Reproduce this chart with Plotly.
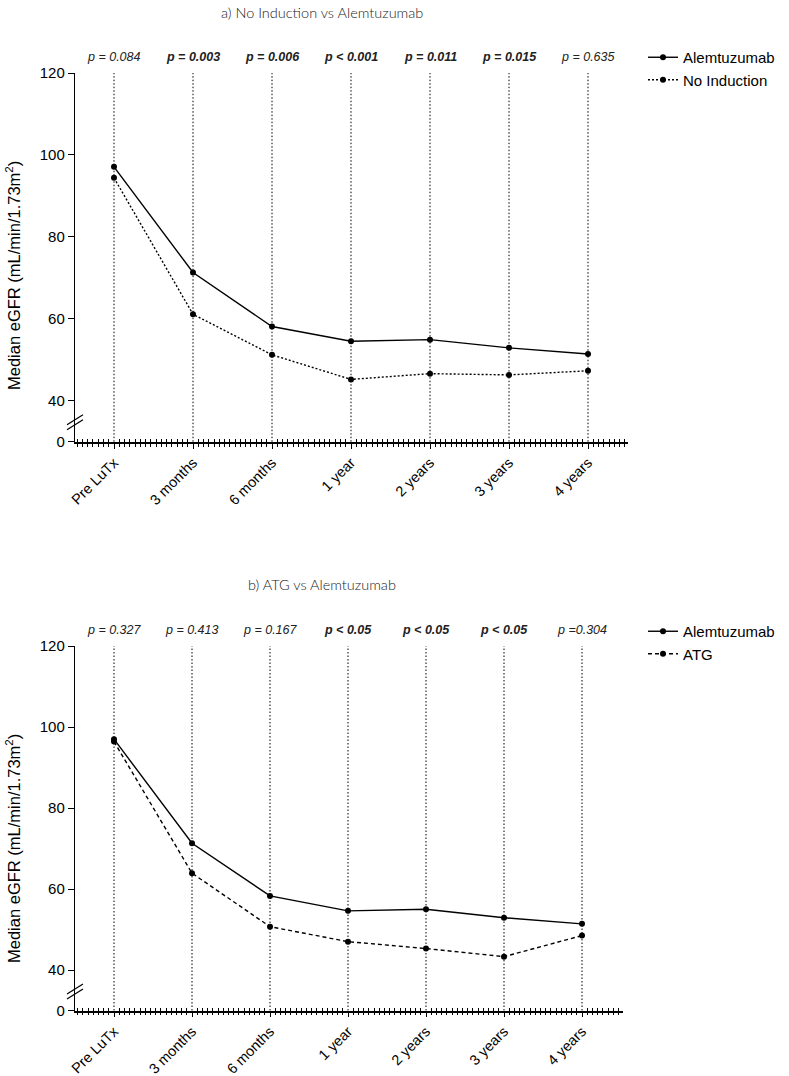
import plotly.graph_objects as go

W, H = 789, 1076

categories = ["Pre LuTx", "3 months", "6 months", "1 year", "2 years", "3 years", "4 years"]

alem_a = [97.1, 71.3, 58.1, 54.5, 54.9, 52.9, 51.4]
noind_a = [94.4, 61.1, 51.2, 45.2, 46.6, 46.3, 47.3]
pvals_a = ["p = 0.084", "p = 0.003", "p = 0.006", "p < 0.001", "p = 0.011", "p = 0.015", "p = 0.635"]
sig_a = [False, True, True, True, True, True, False]

alem_b = [97.0, 71.3, 58.3, 54.6, 55.0, 52.9, 51.4]
atg_b = [96.4, 63.9, 50.7, 47.0, 45.3, 43.3, 48.5]
pvals_b = ["p = 0.327", "p = 0.413", "p = 0.167", "p < 0.05", "p < 0.05", "p < 0.05", "p =0.304"]
sig_b = [False, False, False, True, True, True, False]

yticks_upper = [40, 60, 80, 100, 120]

FONT = "Arial, Liberation Sans, sans-serif"
TFONT = "Lato, Open Sans, sans-serif"


def py(p):
    return 1 - p / H


def pxx(p):
    return p / W


x_idx = list(range(len(categories)))

fig = go.Figure()

panels = [
    dict(xl=75, xr=628, c0=114, step=79, top=73, forty=400.7, zero=441.7, brk=422,
         xa="x", xo="x3", yu="y", yl="y2", legend="legend", title="a) No Induction vs Alemtuzumab",
         title_y=12, p_y=57, leg_y=41,
         series=[("Alemtuzumab", alem_a, "solid"), ("No Induction", noind_a, "2px,2px")],
         pv=pvals_a, sig=sig_a),
    dict(xl=75, xr=623, c0=114, step=78, top=646, forty=970, zero=1010.5, brk=991,
         xa="x2", xo="x4", yu="y3", yl="y4", legend="legend2", title="b) ATG vs Alemtuzumab",
         title_y=584, p_y=630, leg_y=615,
         series=[("Alemtuzumab", alem_b, "solid"), ("ATG", atg_b, "4px,3px")],
         pv=pvals_b, sig=sig_b),
]

shapes = []
annotations = []
layout_axes = {}

for P in panels:
    scale = (P["forty"] - P["top"]) / 80.0
    up_bottom_val = 120 - (P["brk"] - P["top"]) / scale
    low_top_val = (P["zero"] - P["brk"]) / scale
    xr_lo = -(P["c0"] - P["xl"]) / P["step"]
    xr_hi = (P["xr"] - P["c0"]) / P["step"]

    for name, vals, dash in P["series"]:
        fig.add_trace(go.Scatter(
            x=x_idx, y=vals, name=name, mode="lines+markers",
            line=dict(color="black", width=1.4, dash=dash),
            marker=dict(color="black", size=6),
            xaxis=P["xa"], yaxis=P["yu"], legend=P["legend"],
        ))
    fig.add_trace(go.Scatter(x=[0], y=[0], mode="markers", marker=dict(opacity=0), hoverinfo="skip",
                             xaxis=P["xa"], yaxis=P["yl"], showlegend=False))
    fig.add_trace(go.Scatter(x=[0], y=[0], mode="markers", marker=dict(opacity=0), hoverinfo="skip",
                             xaxis=P["xo"], yaxis=P["yl"], showlegend=False))

    xk = "xaxis" + P["xa"][1:]
    xok = "xaxis" + P["xo"][1:]
    yuk = "yaxis" + P["yu"][1:]
    ylk = "yaxis" + P["yl"][1:]

    layout_axes[xk] = dict(
        domain=[pxx(P["xl"]), pxx(P["xr"])], range=[xr_lo, xr_hi], anchor=P["yl"],
        tickvals=x_idx, ticktext=categories, tickangle=-45,
        ticks="outside", ticklen=5, tickwidth=1.2, tickcolor="black",
        showline=True, linecolor="black", linewidth=1.6, showgrid=False, zeroline=False,
        tickfont=dict(family=FONT, size=14.5, color="black"),
        minor=dict(dtick=1 / 15, tick0=0, ticks="outside", ticklen=3, tickwidth=1, tickcolor="black", showgrid=False),
    )
    layout_axes[xok] = dict(
        domain=[pxx(P["xl"]), pxx(P["xr"])], range=[xr_lo, xr_hi], anchor=P["yl"], overlaying=P["xa"],
        showticklabels=False, ticks="", showline=False, showgrid=False, zeroline=False,
        minor=dict(dtick=1 / 15, tick0=0, ticks="inside", ticklen=3, tickwidth=1, tickcolor="black", showgrid=False),
    )
    layout_axes[yuk] = dict(
        domain=[py(P["brk"]), py(P["top"])], range=[up_bottom_val, 120], anchor=P["xa"],
        tickvals=yticks_upper, ticks="outside", ticklen=6, tickwidth=1.2, tickcolor="black",
        showline=True, linecolor="black", linewidth=1.4, showgrid=False, zeroline=False,
        tickfont=dict(family=FONT, size=15, color="black"),
    )
    layout_axes[ylk] = dict(
        domain=[py(P["zero"]), py(P["brk"])], range=[0, low_top_val], anchor=P["xa"],
        tickvals=[0], ticks="outside", ticklen=6, tickwidth=1.2, tickcolor="black",
        showline=True, linecolor="black", linewidth=1.4, showgrid=False, zeroline=False,
        tickfont=dict(family=FONT, size=15, color="black"),
    )

    for i in x_idx:
        shapes.append(dict(type="line", xref=P["xa"], yref="paper", x0=i, x1=i,
                           y0=py(P["zero"]), y1=py(P["top"]),
                           line=dict(color="black", width=1, dash="1.5px,2px"), layer="below"))
    b0 = P["forty"] + 14
    for off in (0, 5):
        shapes.append(dict(type="line", xref="paper", yref="paper",
                           x0=pxx(67), y0=py(b0 + 10 + off), x1=pxx(83), y1=py(b0 + off),
                           line=dict(color="black", width=1.2)))

    for i, (t, s) in enumerate(zip(P["pv"], P["sig"])):
        txt = f"<i>{t}</i>" if not s else f"<b><i>{t}</i></b>"
        annotations.append(dict(x=i, xref=P["xa"], y=py(P["p_y"]), yref="paper", text=txt,
                                showarrow=False, xanchor="center", yanchor="middle",
                                font=dict(family=FONT, size=12.5, color="#222")))
    annotations.append(dict(x=pxx(322), xref="paper", y=py(P["title_y"]), yref="paper", text=P["title"],
                            showarrow=False, xanchor="center", yanchor="middle",
                            font=dict(family=TFONT, size=14.5, color="#222", weight=300)))
    annotations.append(dict(x=pxx(13), xref="paper", y=py(P["top"] + 203), yref="paper",
                            text="Median eGFR (mL/min/1.73m<sup>2</sup>)", textangle=-90,
                            showarrow=False, xanchor="center", yanchor="middle",
                            font=dict(family=FONT, size=16.5, color="black")))

    layout_axes[P["legend"]] = dict(
        x=pxx(643), y=py(P["leg_y"]), xanchor="left", yanchor="top",
        bgcolor="rgba(0,0,0,0)", borderwidth=0, itemwidth=30,
        font=dict(family=FONT, size=15, color="black"),
    )

fig.update_layout(
    width=W, height=H, autosize=False,
    margin=dict(l=0, r=0, t=0, b=0, pad=0, autoexpand=False),
    paper_bgcolor="white", plot_bgcolor="white",
    shapes=shapes, annotations=annotations,
    **layout_axes,
)

fig.write_html("out.html", config={"displayModeBar": False},
               post_script="document.body.style.margin='0px';")
